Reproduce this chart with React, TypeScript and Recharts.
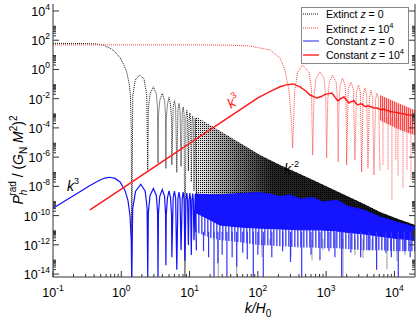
import React from "react";
import { ComposedChart, Line, Area, XAxis, YAxis } from "recharts";

// ---------------- data ----------------
// Extinct z = 0 (black dotted): resolved part
const EXT0_K = [0.1, 0.2, 0.3, 0.44, 0.55, 0.68, 0.8, 0.96, 1.1, 1.2, 1.3, 1.36, 1.4, 1.42,
  1.47, 1.6, 1.85, 2.15, 2.36, 2.44,
  2.49, 2.64, 2.95, 3.26, 3.4, 3.45,
  3.5, 3.66, 3.98, 4.3, 4.45, 4.5,
  4.55, 4.75, 5.0, 5.25, 5.45, 5.5,
  5.75, 6.0, 6.25, 6.5,
  6.75, 7.0, 7.25, 7.5,
  7.8, 8.05, 8.3, 8.55,
  8.85, 9.1, 9.35, 9.6,
  9.85, 10.1, 10.35, 10.6,
  10.85, 11.1, 11.35, 11.6,
  12.1, 12.6];
const EXT0_P = [60, 60, 59, 55, 45, 29, 17, 6.2, 1.9, 0.67, 0.114, 0.0177, 7.2e-5, 6.3e-15,
  0.014, 0.19, 0.42, 0.23, 0.018, 1.25e-7,
  0.002, 0.021, 0.065, 0.021, 0.002, 4e-7,
  7.1e-4, 0.0077, 0.023, 0.0077, 7.1e-4, 1.7e-7,
  3.9e-4, 0.0042, 0.0124, 0.0042, 3.9e-4, 3e-7,
  0.0025, 0.0072, 0.0025, 9e-8,
  0.0016, 0.0047, 0.0016, 2.3e-7,
  9.6e-4, 0.0027, 9.6e-4, 6.3e-15,
  5.5e-4, 0.0016, 5.5e-4, 1.14e-7,
  3.5e-4, 0.00104, 3.5e-4, 2.1e-8,
  2.3e-4, 6.6e-4, 2.3e-4, 5e-9,
  4.6e-4, 2e-9];
// Extinct z = 0: dense oscillation band
const EXT0_BAND_K = [12, 14.2, 19.9, 27.9, 39.1, 54.7, 76.6, 107, 150, 211, 414, 641, 1138, 2018, 3581, 6138, 11270, 20000];
const EXT0_BAND_TOP = [6.3e-4, 4e-4, 1.56e-4, 6.2e-5, 2.4e-5, 9.3e-6, 3.6e-6, 1.38e-6, 6.3e-7, 2.95e-7, 6.9e-8, 2.7e-8, 7.7e-9, 2.2e-9, 6.2e-10, 1.75e-10, 5.9e-11, 2.25e-11];
const EXT0_BAND_BOTTOM = [9.6e-10, 4.8e-10, 2.85e-10, 1.9e-10, 1.9e-10, 1.4e-10, 1.4e-10, 8.8e-11, 8.8e-11, 7e-11, 4.3e-11, 3.4e-11, 2.55e-11, 1.65e-11, 8e-12, 4.7e-12, 3e-12, 2.3e-12];
const EXT0_SPIKE_K = [26.3, 49, 115, 150, 305, 620, 898, 1343, 1762, 2640, 3460, 4690, 7762, 10890, 14260];
const EXT0_SPIKE_P = [6.3e-15, 6.3e-15, 1.4e-13, 9.6e-13, 1.4e-13, 8.8e-14, 4.3e-13, 6.6e-13, 6.3e-15, 2e-13, 1.25e-13, 4.3e-13, 2e-14, 8.2e-14, 2e-13];

// Constant z = 0 (blue)
const CONST0_K = [0.1, 0.178, 0.248, 0.348, 0.488, 0.577, 0.68, 0.81, 0.96, 1.13, 1.25, 1.34, 1.4, 1.42,
  1.47, 1.62, 1.93, 2.24, 2.39, 2.44,
  2.49, 2.64, 2.95, 3.26, 3.4, 3.45,
  3.5, 3.66, 3.98, 4.3, 4.45, 4.5,
  4.55, 4.75, 5.0, 5.25, 5.45, 5.5,
  5.75, 6.0, 6.25, 6.5,
  6.75, 7.0, 7.25, 7.5,
  7.8, 8.05, 8.3, 8.55,
  8.85, 9.1, 9.35, 9.6,
  9.85, 10.1, 10.35, 10.6,
  10.85, 11.1, 11.35, 11.6,
  12.1, 12.6];
const CONST0_P = [3.2e-10, 1.66e-9, 4.35e-9, 1.15e-8, 2.7e-8, 3.7e-8, 4.2e-8, 3.5e-8, 2e-8, 5.5e-9, 1.16e-9, 1.06e-10, 2.1e-12, 6.3e-15,
  3.1e-10, 4.7e-9, 1.4e-8, 4.7e-9, 3.1e-10, 6.3e-15,
  1.6e-10, 2.4e-9, 7.2e-9, 2.4e-9, 1.6e-10, 6.3e-15,
  1.35e-10, 2.1e-9, 6.1e-9, 2.1e-9, 1.35e-10, 4e-14,
  1.07e-10, 1.7e-9, 4.9e-9, 1.7e-9, 1.07e-10, 1.4e-13,
  1.6e-9, 4.7e-9, 1.6e-9, 2e-14,
  1.4e-9, 4.1e-9, 1.4e-9, 4.3e-13,
  1.4e-9, 4.1e-9, 1.4e-9, 8.2e-14,
  1.16e-9, 3.5e-9, 1.16e-9, 9.6e-13,
  1.16e-9, 3.5e-9, 1.16e-9, 2e-13,
  1.07e-9, 3.2e-9, 1.07e-9, 2.1e-12,
  3e-9, 4.3e-13];
const CONST0_BAND_K = [12, 19.9, 27.9, 54.7, 100, 150, 211, 295, 414, 641, 898, 1442, 2018, 3581, 6138, 10890, 20000];
const CONST0_BAND_TOP = [3.0e-9, 2.6e-9, 2.6e-9, 3.2e-9, 3.75e-9, 3.0e-9, 2.0e-9, 2.6e-9, 1.36e-9, 1.7e-9, 8.5e-10, 1.16e-9, 4.5e-10, 2.37e-10, 8e-11, 3.65e-11, 1.64e-11];
const CONST0_BAND_SOLID_BOTTOM = [1.7e-10, 5.2e-11, 2.24e-11, 1.65e-11, 1.4e-11, 1.31e-11, 1.23e-11, 1.15e-11, 1.06e-11, 1.06e-11, 1.03e-11, 8.9e-12, 7.2e-12, 5.6e-12, 3.9e-12, 2.7e-12, 2.15e-12];
const CONST0_BAND_LIGHT_BOTTOM = [8e-12, 3e-12, 2.15e-12, 1.5e-12, 9.6e-13, 8.9e-13, 8.1e-13, 7.4e-13, 6.6e-13, 6.6e-13, 5.8e-13, 5.8e-13, 5.1e-13, 4.3e-13, 4.3e-13, 3.6e-13, 3.6e-13];
const CONST0_SPIKE_K = [16, 19, 22.8, 26, 30, 35.2, 42, 49, 60, 70, 85.7, 100, 120, 160, 230, 300, 438, 600, 812, 1100, 1345, 1687, 2300, 3200, 4200, 5480, 7500, 9000, 11380, 14000, 17000];
const CONST0_SPIKE_P = [3.6e-13, 1.4e-13, 6.3e-15, 5.4e-14, 2.1e-13, 6.3e-15, 1.4e-13, 3.3e-14, 2.9e-13, 1.05e-13, 6.3e-15, 2.1e-13, 6.3e-15, 1.4e-13, 3.6e-13, 6.8e-14, 6.3e-15, 2.1e-13, 8.8e-14, 3.6e-13, 1.4e-13, 6.3e-15, 2.9e-13, 1.4e-13, 4.3e-13, 2e-14, 2.9e-13, 1.4e-13, 6.3e-15, 3.6e-13, 1.4e-13];

// Extinct z = 10^4 (red dotted)
const EXT4_K = [0.1, 1, 10, 40, 76.6, 150, 211, 249, 285, 312, 323,
  348, 385, 450, 560, 610, 634,
  665, 710, 812, 930, 985, 1016,
  1055, 1115, 1240, 1400, 1465, 1503,
  1545, 1600, 1740, 1900, 1955, 1995,
  2100, 2307, 2500, 2640,
  2780, 2972, 3170, 3311,
  3480, 3698, 3920, 4093,
  4300, 4529, 4780, 5012,
  5300, 5546, 5850, 6138];
const EXT4_P = [48, 48, 48, 46, 40, 21.5, 6.2, 0.93, 0.038, 2.1e-4, 4.2e-6,
  0.044, 0.67, 2.0, 0.67, 0.044, 1.38e-6,
  0.016, 0.235, 0.71, 0.235, 0.016, 8.6e-7,
  0.0087, 0.134, 0.42, 0.134, 0.0087, 4.6e-7,
  0.0051, 0.083, 0.25, 0.083, 0.0051, 2.95e-7,
  0.046, 0.138, 0.046, 6.1e-7,
  0.029, 0.087, 0.029, 9.7e-8,
  0.0177, 0.054, 0.0177, 1.74e-7,
  0.0123, 0.037, 0.0123, 6e-8,
  0.0087, 0.024, 0.0087, 1.14e-7];
const EXT4_BAND_K = [6138, 8590, 12020, 20000];
const EXT4_BAND_TOP = [0.0177, 0.0087, 0.0045, 0.0016];
const EXT4_BAND_BOTTOM = [3.4e-4, 1.5e-4, 7.3e-5, 3.2e-5];
const EXT4_SPIKE_K = [6790, 8035, 9190, 10500, 11270, 13340, 15270, 17470];
const EXT4_SPIKE_P = [2.95e-7, 1.25e-7, 1.16e-9, 6.3e-7, 5.2e-8, 7.7e-9, 1.25e-7, 2.7e-8];

// Constant z = 10^4 (red solid)
const CONST4_K = [0.348, 1, 10, 100, 150, 211, 260, 327, 414, 500, 580, 730, 850, 960, 1216, 1350, 1489, 1650, 1820, 2000, 2158, 2350, 2553, 2750, 2924, 3150, 3345, 3600, 3800, 4100, 4500, 5000, 5600, 6138, 7000, 8590, 10000, 12000, 15000, 20000];
const CONST4_P = [2.45e-10, 6.5e-9, 8.6e-6, 0.0112, 0.030, 0.065, 0.088, 0.102, 0.065, 0.035, 0.0177, 0.011, 0.014, 0.0197, 0.0243, 0.0123, 0.007, 0.0104, 0.013, 0.0077, 0.0051, 0.0065, 0.007, 0.0047, 0.0037, 0.0044, 0.0044, 0.0032, 0.0028, 0.0033, 0.0028, 0.0023, 0.0023, 0.0018, 0.00187, 0.00134, 0.0012, 9.9e-4, 8.2e-4, 6.6e-4];

// axes
const X_EXPS = [-1, 0, 1, 2, 3, 4];
const Y_EXPS = [-14, -12, -10, -8, -6, -4, -2, 0, 2, 4];
const MINOR_MULTS = [2, 3, 4, 5, 6, 7, 8, 9];
const X_DOMAIN = [0.1, 20000];
const Y_DOMAIN = [6.3e-15, 3e4];

// ---------------- helpers ----------------
const zip = (ks: number[], ps: number[]) => ks.map((k, i) => ({ k, p: ps[i] }));
const bandRows = (ks: number[], lo: number[], hi: number[]) => ks.map((k, i) => ({ k, band: [lo[i], hi[i]] }));
const spikeRows = (ks: number[], ps: number[], base: number) => {
  const out: { k: number; p: number | null }[] = [];
  ks.forEach((k, i) => {
    out.push({ k, p: base });
    out.push({ k, p: ps[i] });
    out.push({ k, p: null });
  });
  return out;
};

const xTicks: number[] = [];
X_EXPS.forEach((e) => {
  xTicks.push(Math.pow(10, e));
  MINOR_MULTS.forEach((m) => {
    const v = m * Math.pow(10, e);
    if (v < X_DOMAIN[1]) xTicks.push(v);
  });
});
const yTicks: number[] = [];
Y_EXPS.forEach((e) => {
  yTicks.push(Math.pow(10, e));
  if (e < Y_EXPS[Y_EXPS.length - 1]) MINOR_MULTS.forEach((m) => yTicks.push(m * Math.pow(10, e)));
});

const decadeOf = (v: number): number | null => {
  const e = Math.log10(v);
  const r = Math.round(e);
  return Math.abs(e - r) < 1e-6 ? r : null;
};

const W = 417;
const H = 321;
const PLOT_LEFT = 53;
const PLOT_RIGHT = 415;
const PLOT_BOTTOM = 277;
const AXIS = "#333";
const FONT = "'Liberation Sans', Arial, Helvetica, sans-serif";

const XTick = (props: any) => {
  const { x, payload } = props;
  const e = decadeOf(payload.value);
  const major = e !== null;
  return (
    <g>
      <line x1={x} x2={x} y1={PLOT_BOTTOM} y2={PLOT_BOTTOM - (major ? 6 : 3)} stroke={AXIS} strokeWidth={1} />
      {major && (
        <text x={x} y={297} textAnchor="middle" fontSize={12.5} fontFamily={FONT} fill="#000">
          10<tspan dy={-6} fontSize={8.5}>{e}</tspan>
        </text>
      )}
    </g>
  );
};

const YTickLeft = (props: any) => {
  const { y, payload } = props;
  const e = decadeOf(payload.value);
  const major = e !== null;
  return (
    <g>
      <line x1={PLOT_LEFT} x2={PLOT_LEFT + (major ? 6 : 3)} y1={y} y2={y} stroke={AXIS} strokeWidth={1} />
      {major && (
        <text x={50} y={y + 5} textAnchor="end" fontSize={12.5} fontFamily={FONT} fill="#000">
          10<tspan dy={-6} fontSize={8.5}>{e}</tspan>
        </text>
      )}
    </g>
  );
};

const YTickRight = (props: any) => {
  const { y, payload } = props;
  const major = decadeOf(payload.value) !== null;
  return <line x1={PLOT_RIGHT} x2={PLOT_RIGHT - (major ? 6 : 3)} y1={y} y2={y} stroke={AXIS} strokeWidth={1} />;
};

export default function App() {
  const ext0Line = zip(EXT0_K, EXT0_P);
  const ext0Band = bandRows(EXT0_BAND_K, EXT0_BAND_BOTTOM, EXT0_BAND_TOP);
  const ext0Spikes = spikeRows(EXT0_SPIKE_K, EXT0_SPIKE_P, 2.3e-12);
  const const0Line = zip(CONST0_K, CONST0_P);
  const const0Light = bandRows(CONST0_BAND_K, CONST0_BAND_LIGHT_BOTTOM, CONST0_BAND_TOP);
  const const0Solid = bandRows(CONST0_BAND_K, CONST0_BAND_SOLID_BOTTOM, CONST0_BAND_TOP);
  const const0Spikes = spikeRows(CONST0_SPIKE_K, CONST0_SPIKE_P, 8e-12);
  const ext4Line = zip(EXT4_K, EXT4_P);
  const ext4Band = bandRows(EXT4_BAND_K, EXT4_BAND_BOTTOM, EXT4_BAND_TOP);
  const ext4Spikes = spikeRows(EXT4_SPIKE_K, EXT4_SPIKE_P, 4.5e-4);
  const const4Line = zip(CONST4_K, CONST4_P);

  return (
    <div style={{ position: "absolute", left: 0, top: 0, width: W, height: H, background: "#fff", overflow: "hidden" }}>
      <svg width={0} height={0} style={{ position: "absolute" }}>
        <defs>
          <pattern id="blackDots" width="2" height="2" patternUnits="userSpaceOnUse">
            <rect x="0" y="0" width="1" height="1" fill="#000" />
          </pattern>
          <linearGradient id="blackFade" x1="0" y1="0" x2="1" y2="0">
            <stop offset="0" stopColor="#000" stopOpacity={0.05} />
            <stop offset="0.2" stopColor="#000" stopOpacity={0.55} />
            <stop offset="0.35" stopColor="#000" stopOpacity={0.85} />
            <stop offset="1" stopColor="#000" stopOpacity={0.95} />
          </linearGradient>
          <pattern id="blueStripes" width="3" height="4" patternUnits="userSpaceOnUse">
            <rect x="0" y="0" width="1.6" height="4" fill="#5a5aff" />
          </pattern>
          <pattern id="redStripes" width="2" height="2" patternUnits="userSpaceOnUse">
            <rect x="0" y="0" width="2" height="2" fill="#ffc4c4" />
            <rect x="0" y="0" width="1" height="2" fill="#ff4646" />
          </pattern>
        </defs>
      </svg>
      <ComposedChart width={W} height={H} margin={{ top: 4, right: 0, bottom: 0, left: 0 }}>
        <XAxis dataKey="k" type="number" scale="log" domain={X_DOMAIN} allowDataOverflow ticks={xTicks} interval={0}
          tick={XTick} tickLine={false} axisLine={{ stroke: AXIS }} height={44} />
        <XAxis xAxisId="top" dataKey="k" orientation="top" type="number" scale="log" domain={X_DOMAIN} allowDataOverflow
          tick={false} tickLine={false} axisLine={{ stroke: "#777" }} height={0} />
        <YAxis type="number" scale="log" domain={Y_DOMAIN} allowDataOverflow ticks={yTicks} interval={0}
          tick={YTickLeft} tickLine={false} axisLine={{ stroke: AXIS }} width={53} />
        <YAxis yAxisId="right" orientation="right" type="number" scale="log" domain={Y_DOMAIN} allowDataOverflow ticks={yTicks}
          interval={0} tick={YTickRight} tickLine={false} axisLine={{ stroke: AXIS }} width={2} />

        <Area data={ext0Band} dataKey="band" type="linear" stroke="none" fill="url(#blackDots)" fillOpacity={1} isAnimationActive={false} />
        <Area data={ext0Band} dataKey="band" type="linear" stroke="none" fill="url(#blackFade)" fillOpacity={1} isAnimationActive={false} />
        <Line data={ext0Line} dataKey="p" type="linear" stroke="#111" strokeWidth={1} strokeDasharray="1 1" dot={false} isAnimationActive={false} />
        <Line data={ext0Spikes} dataKey="p" type="linear" stroke="#333" strokeWidth={1} strokeDasharray="1 1" dot={false} isAnimationActive={false} />

        <Area data={const0Light} dataKey="band" type="linear" stroke="none" fill="url(#blueStripes)" fillOpacity={1} isAnimationActive={false} />
        <Area data={const0Solid} dataKey="band" type="linear" stroke="#1010ff" strokeWidth={1} fill="#1414ff" fillOpacity={1} isAnimationActive={false} />
        <Line data={const0Line} dataKey="p" type="linear" stroke="#1010ff" strokeWidth={1.2} dot={false} isAnimationActive={false} />
        <Line data={const0Spikes} dataKey="p" type="linear" stroke="#3535ff" strokeWidth={1.2} dot={false} isAnimationActive={false} />

        <Area data={ext4Band} dataKey="band" type="linear" stroke="none" fill="url(#redStripes)" fillOpacity={1} isAnimationActive={false} />
        <Line data={ext4Line} dataKey="p" type="linear" stroke="#ff4040" strokeWidth={1} strokeDasharray="1 1" dot={false} isAnimationActive={false} />
        <Line data={ext4Spikes} dataKey="p" type="linear" stroke="#ff4040" strokeWidth={1} strokeDasharray="1 1" dot={false} isAnimationActive={false} />

        <Line data={const4Line} dataKey="p" type="linear" stroke="#ff1a1a" strokeWidth={1.5} dot={false} isAnimationActive={false} />
      </ComposedChart>

      <svg width={W} height={H} style={{ position: "absolute", left: 0, top: 0, pointerEvents: "none" }} fontFamily={FONT}>
        {/* legend */}
        <rect x={301.5} y={7.5} width={107} height={56} fill="#fff" stroke="#888" strokeWidth={1} />
        <line x1={303} x2={319} y1={14} y2={14} stroke="#111" strokeDasharray="1 1" />
        <text x={326} y={18} fontSize={10.5} fill="#000">Extinct <tspan fontStyle="italic">z</tspan> = 0</text>
        <line x1={303} x2={319} y1={28} y2={28} stroke="#ff4040" strokeDasharray="1 1" />
        <text x={326} y={32.5} fontSize={10.5} fill="#000">Extinct <tspan fontStyle="italic">z</tspan> = 10<tspan dy={-5} fontSize={7.5}>4</tspan></text>
        <line x1={303} x2={319} y1={41} y2={41} stroke="#9090f0" strokeWidth={2} />
        <text x={326} y={45} fontSize={10.5} fill="#000">Constant <tspan fontStyle="italic">z</tspan> = 0</text>
        <line x1={303} x2={319} y1={55} y2={55} stroke="#ff3030" strokeWidth={1.5} />
        <text x={326} y={59} fontSize={10.5} fill="#000">Constant <tspan fontStyle="italic">z</tspan> = 10<tspan dy={-5} fontSize={7.5}>4</tspan></text>

        {/* annotations */}
        <text x={67} y={191} fontSize={14} fill="#000"><tspan fontStyle="italic">k</tspan><tspan dy={-7} fontSize={9}>3</tspan></text>
        <text transform="translate(231,109) rotate(-33)" fontSize={14} fill="#ff1a1a"><tspan fontStyle="italic">k</tspan><tspan dy={-7} fontSize={9}>3</tspan></text>
        <text x={284} y={174} fontSize={14} fill="#000"><tspan fontStyle="italic">k</tspan><tspan dy={-7} fontSize={9}>-2</tspan></text>

        {/* axis titles */}
        <text x={258} y={313} textAnchor="middle" fontSize={14} fill="#000">
          <tspan fontStyle="italic">k/H</tspan><tspan dy={4} fontSize={10}>0</tspan>
        </text>
        <text transform="translate(23,160) rotate(-90)" textAnchor="middle" fontSize={14} fill="#000">
          <tspan fontStyle="italic">P</tspan>
          <tspan fontSize={10} dy={4} fontStyle="italic">h</tspan>
          <tspan fontSize={10} dx={-6} dy={-11}>rad</tspan>
          <tspan dy={7}> / (</tspan>
          <tspan fontStyle="italic">G</tspan>
          <tspan fontSize={10} dy={4}>N</tspan>
          <tspan dy={-4}> </tspan>
          <tspan fontStyle="italic">M</tspan>
          <tspan fontSize={10} dy={-6}>2</tspan>
          <tspan dy={6}>)</tspan>
          <tspan fontSize={10} dy={-6}>2</tspan>
        </text>
      </svg>
    </div>
  );
}
